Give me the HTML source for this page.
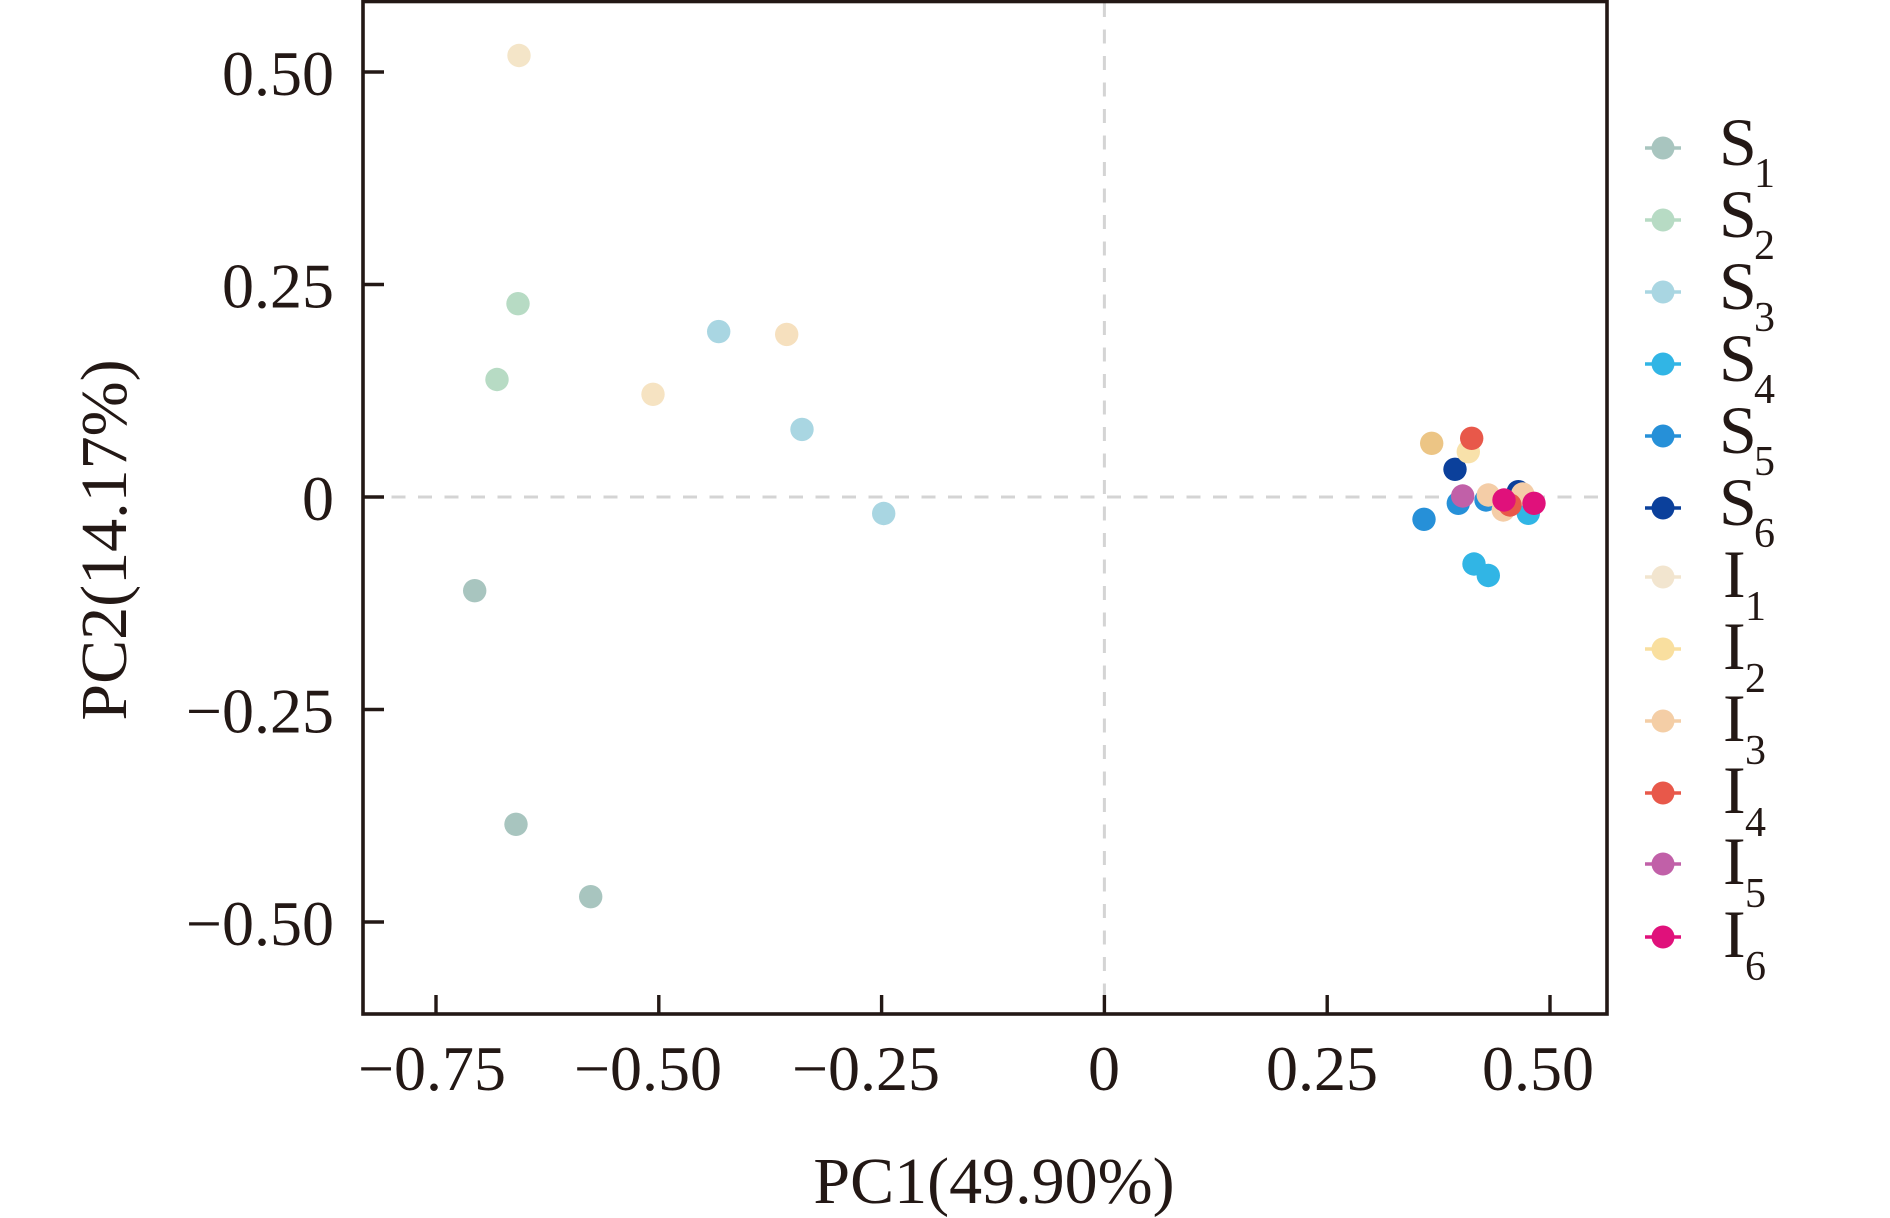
<!DOCTYPE html>
<html>
<head>
<meta charset="utf-8">
<style>
  html, body { margin: 0; padding: 0; background: #ffffff; }
  svg { display: block; }
  text { font-family: "Liberation Serif", "Times New Roman", serif; fill: #231815; }
</style>
</head>
<body>
<svg width="1890" height="1218" viewBox="0 0 1890 1218" xmlns="http://www.w3.org/2000/svg">
  <rect x="0" y="0" width="1890" height="1218" fill="#ffffff"/>

  <!-- dashed zero lines -->
  <line x1="1104.4" y1="3" x2="1104.4" y2="1012" stroke="#d4d4d4" stroke-width="3" stroke-dasharray="14 12.5"/>
  <line x1="365" y1="497" x2="1605" y2="497" stroke="#d4d4d4" stroke-width="3" stroke-dasharray="14 12.5"/>

  <!-- points -->
  <g>
    <!-- S1 -->
    <circle cx="474.7" cy="590.7" r="11.7" fill="#a8c5bf"/>
    <circle cx="516" cy="824.3" r="11.7" fill="#a8c5bf"/>
    <circle cx="590.7" cy="896.7" r="11.7" fill="#a8c5bf"/>
    <!-- S2 -->
    <circle cx="518" cy="303.7" r="11.7" fill="#b7dbc4"/>
    <circle cx="497" cy="379.5" r="11.7" fill="#b7dbc4"/>
    <!-- S3 -->
    <circle cx="718.7" cy="331.6" r="11.7" fill="#a9d6e2"/>
    <circle cx="802" cy="429.4" r="11.7" fill="#a9d6e2"/>
    <circle cx="883.7" cy="513.5" r="11.7" fill="#a9d6e2"/>
    <!-- S4 -->
    <circle cx="1474" cy="564" r="11.7" fill="#31b5e5"/>
    <circle cx="1488.3" cy="575.5" r="11.7" fill="#31b5e5"/>
    <circle cx="1528.3" cy="513.3" r="11.7" fill="#31b5e5"/>
    <!-- S5 -->
    <circle cx="1424" cy="519.3" r="11.7" fill="#2690d8"/>
    <circle cx="1458.3" cy="503.3" r="11.7" fill="#2690d8"/>
    <circle cx="1486" cy="500" r="11.7" fill="#2690d8"/>
    <!-- S6 -->
    <circle cx="1455" cy="469.3" r="11.7" fill="#0b409b"/>
    <circle cx="1518.3" cy="491.7" r="11.7" fill="#0b409b"/>
    <!-- I1 -->
    <circle cx="519" cy="55.5" r="11.7" fill="#f4e5c8"/>
    <circle cx="786.7" cy="334.4" r="11.7" fill="#f6e0be"/>
    <circle cx="653" cy="394.3" r="11.7" fill="#f6e3c2"/>
    <!-- I2 -->
    <circle cx="1431.7" cy="443.3" r="11.7" fill="#ecc585"/>
    <circle cx="1468.3" cy="451.7" r="11.7" fill="#f8e1aa"/>
    <!-- I3 -->
    <circle cx="1488.3" cy="495" r="11.7" fill="#f4cda7"/>
    <circle cx="1503.3" cy="510" r="11.7" fill="#f4cda7"/>
    <circle cx="1522.7" cy="494" r="11.7" fill="#f4cda7"/>
    <!-- I4 -->
    <circle cx="1471.7" cy="438.3" r="11.7" fill="#e8584a"/>
    <circle cx="1510" cy="505" r="11.7" fill="#e8584a"/>
    <!-- I5 -->
    <circle cx="1462.7" cy="496" r="11.7" fill="#c160a8"/>
    <!-- I6 -->
    <circle cx="1504" cy="500" r="11.7" fill="#e0117b"/>
    <circle cx="1534" cy="503.3" r="11.7" fill="#e0117b"/>
  </g>

  <!-- axes frame -->
  <rect x="363" y="1.5" width="1244" height="1012.5" fill="none" stroke="#231815" stroke-width="3.6"/>

  <!-- ticks -->
  <g stroke="#231815" stroke-width="3.4">
    <line x1="436" y1="1014" x2="436" y2="995"/>
    <line x1="658.8" y1="1014" x2="658.8" y2="995"/>
    <line x1="881.6" y1="1014" x2="881.6" y2="995"/>
    <line x1="1104.4" y1="1014" x2="1104.4" y2="995"/>
    <line x1="1327.2" y1="1014" x2="1327.2" y2="995"/>
    <line x1="1550" y1="1014" x2="1550" y2="995"/>
    <line x1="363" y1="72" x2="384" y2="72"/>
    <line x1="363" y1="284.5" x2="384" y2="284.5"/>
    <line x1="363" y1="497" x2="384" y2="497"/>
    <line x1="363" y1="709.5" x2="384" y2="709.5"/>
    <line x1="363" y1="922" x2="384" y2="922"/>
  </g>

  <!-- x tick labels -->
  <g font-size="64" text-anchor="middle">
    <text x="432" y="1090">−0.75</text>
    <text x="648" y="1090">−0.50</text>
    <text x="866" y="1090">−0.25</text>
    <text x="1104" y="1090">0</text>
    <text x="1322" y="1090">0.25</text>
    <text x="1538" y="1090">0.50</text>
  </g>

  <!-- y tick labels -->
  <g font-size="64" text-anchor="end">
    <text x="334" y="95">0.50</text>
    <text x="334" y="307.5">0.25</text>
    <text x="334" y="520">0</text>
    <text x="334" y="732.5">−0.25</text>
    <text x="334" y="945">−0.50</text>
  </g>

  <!-- axis titles -->
  <text x="994" y="1203" font-size="66" text-anchor="middle">PC1(49.90%)</text>
  <text x="0" y="0" font-size="66" text-anchor="middle" transform="translate(126,540) rotate(-90)">PC2(14.17%)</text>

  <!-- legend -->
  <g stroke-width="3.6">
    <line x1="1645" y1="148" x2="1681" y2="148" stroke="#a8c5bf"/>
    <circle cx="1663" cy="148" r="11.5" fill="#a8c5bf" stroke="none"/>
    <line x1="1645" y1="220" x2="1681" y2="220" stroke="#b7dbc4"/>
    <circle cx="1663" cy="220" r="11.5" fill="#b7dbc4" stroke="none"/>
    <line x1="1645" y1="292" x2="1681" y2="292" stroke="#a9d6e2"/>
    <circle cx="1663" cy="292" r="11.5" fill="#a9d6e2" stroke="none"/>
    <line x1="1645" y1="364" x2="1681" y2="364" stroke="#31b5e5"/>
    <circle cx="1663" cy="364" r="11.5" fill="#31b5e5" stroke="none"/>
    <line x1="1645" y1="436" x2="1681" y2="436" stroke="#2690d8"/>
    <circle cx="1663" cy="436" r="11.5" fill="#2690d8" stroke="none"/>
    <line x1="1645" y1="508" x2="1681" y2="508" stroke="#0b409b"/>
    <circle cx="1663" cy="508" r="11.5" fill="#0b409b" stroke="none"/>
    <line x1="1645" y1="577" x2="1681" y2="577" stroke="#f2e5cf"/>
    <circle cx="1663" cy="577" r="11.5" fill="#f2e5cf" stroke="none"/>
    <line x1="1645" y1="649" x2="1681" y2="649" stroke="#f9df9f"/>
    <circle cx="1663" cy="649" r="11.5" fill="#f9df9f" stroke="none"/>
    <line x1="1645" y1="721" x2="1681" y2="721" stroke="#f4cea6"/>
    <circle cx="1663" cy="721" r="11.5" fill="#f4cea6" stroke="none"/>
    <line x1="1645" y1="793" x2="1681" y2="793" stroke="#e8584a"/>
    <circle cx="1663" cy="793" r="11.5" fill="#e8584a" stroke="none"/>
    <line x1="1645" y1="864" x2="1681" y2="864" stroke="#c160a8"/>
    <circle cx="1663" cy="864" r="11.5" fill="#c160a8" stroke="none"/>
    <line x1="1645" y1="937" x2="1681" y2="937" stroke="#e0117b"/>
    <circle cx="1663" cy="937" r="11.5" fill="#e0117b" stroke="none"/>
  </g>

  <g font-size="68">
    <text x="1719" y="165">S</text>
    <text x="1719" y="237">S</text>
    <text x="1719" y="309">S</text>
    <text x="1719" y="381">S</text>
    <text x="1719" y="453">S</text>
    <text x="1719" y="525">S</text>
    <text x="1723" y="597">I</text>
    <text x="1723" y="669">I</text>
    <text x="1723" y="741">I</text>
    <text x="1723" y="813">I</text>
    <text x="1723" y="884">I</text>
    <text x="1723" y="957">I</text>
  </g>
  <g font-size="42">
    <text x="1754" y="187">1</text>
    <text x="1754" y="259">2</text>
    <text x="1754" y="331">3</text>
    <text x="1754" y="403">4</text>
    <text x="1754" y="475">5</text>
    <text x="1754" y="547">6</text>
    <text x="1745" y="620">1</text>
    <text x="1745" y="692">2</text>
    <text x="1745" y="764">3</text>
    <text x="1745" y="836">4</text>
    <text x="1745" y="907">5</text>
    <text x="1745" y="980">6</text>
  </g>
</svg>
</body>
</html>
